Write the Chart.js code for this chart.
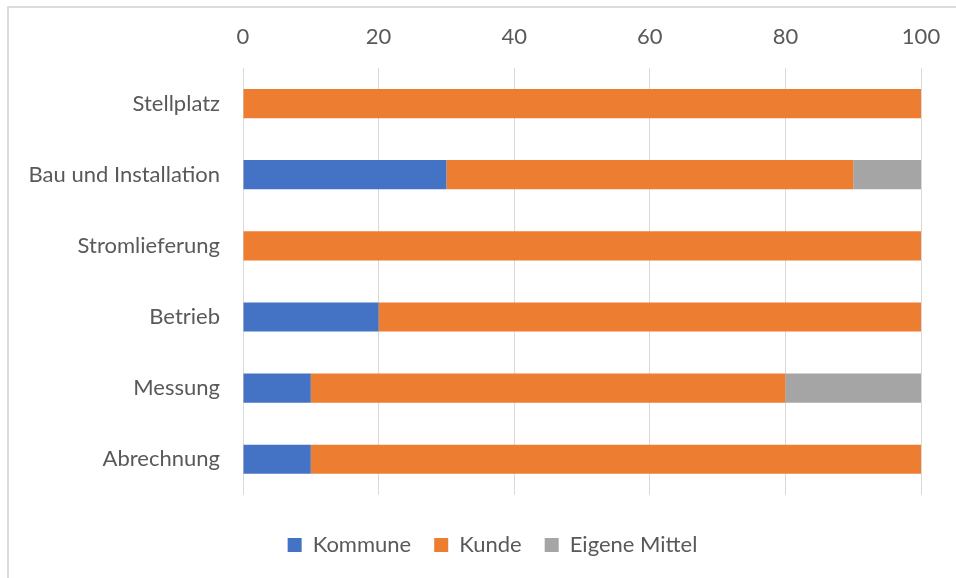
<!DOCTYPE html>
<html>
<head>
<meta charset="utf-8">
<script src="https://cdn.jsdelivr.net/npm/chart.js@4"></script>
<style>
  html, body { margin: 0; padding: 0; background: #fff; }
  #wrap { position: relative; width: 956px; height: 578px; overflow: hidden; }
  #frame { position: absolute; left: 7px; top: 6px; width: 1000px; height: 1000px; border: 2px solid #dcdcdc; box-sizing: border-box; }
  #c { position: absolute; left: 0; top: 0; }
</style>
</head>
<body>
<div id="wrap">
  <div id="frame"></div>
  <canvas id="c" width="956" height="578"></canvas>
</div>
<script>
const categories = ['Stellplatz', 'Bau und Installation', 'Stromlieferung', 'Betrieb', 'Messung', 'Abrechnung'];
const kommune = [0, 30, 0, 20, 10, 10];
const kunde = [100, 60, 100, 80, 70, 90];
const eigeneMittel = [0, 10, 0, 0, 20, 0];
const xTicks = [0, 20, 40, 60, 80, 100];

const fontFamily = 'Lato, "Open Sans", sans-serif';
const textColor = '#595959';

// the legend sits a bit right of the canvas centre in the original
const legendShift = {
    id: 'legendShift',
    afterLayout(chart) {
        chart.legend.left += 32;
        chart.legend.right += 32;
    }
};

new Chart(document.getElementById('c').getContext('2d'), {
    type: 'bar',
    data: {
        labels: categories,
        datasets: [
            { label: 'Kommune', data: kommune, backgroundColor: '#4472c4' },
            { label: 'Kunde', data: kunde, backgroundColor: '#ed7d31' },
            { label: 'Eigene Mittel', data: eigeneMittel, backgroundColor: '#a5a5a5' }
        ]
    },
    options: {
        indexAxis: 'y',
        responsive: false,
        animation: false,
        barPercentage: 0.41,
        categoryPercentage: 1,
        layout: { padding: { left: 0, right: 35, top: 0, bottom: 12 } },
        scales: {
            x: {
                position: 'top',
                stacked: true,
                min: 0,
                max: 100,
                afterBuildTicks: axis => { axis.ticks = xTicks.map(v => ({ value: v })); },
                afterFit: axis => {
                    axis.height = 68;
                    axis.paddingLeft = 0;
                    axis.paddingRight = 0;
                },
                grid: { color: '#d9d9d9', lineWidth: 1, drawTicks: false },
                border: { display: false },
                ticks: { color: textColor, font: { family: fontFamily, size: 22 }, padding: 18 }
            },
            y: {
                stacked: true,
                afterFit: axis => { axis.width = 243; },
                grid: { display: false },
                border: { display: false },
                ticks: { color: textColor, font: { family: fontFamily, size: 22 }, padding: 15 }
            }
        },
        plugins: {
            legend: {
                position: 'bottom',
                title: { display: true, text: '', font: { size: 1 }, padding: { top: 0, bottom: 15 } },
                labels: {
                    color: textColor,
                    font: { family: fontFamily, size: 22 },
                    boxWidth: 14,
                    boxHeight: 14,
                    padding: 23
                }
            },
            tooltip: { enabled: false }
        }
    },
    plugins: [legendShift]
});
</script>
</body>
</html>
